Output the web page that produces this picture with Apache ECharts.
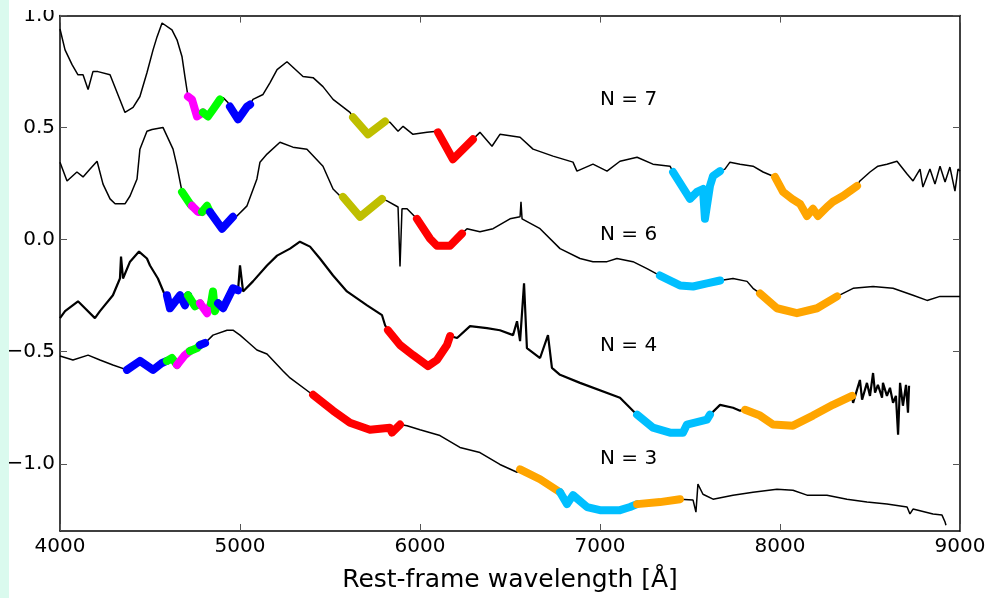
<!DOCTYPE html>
<html>
<head>
<meta charset="utf-8">
<script src="https://cdn.jsdelivr.net/npm/echarts@6/dist/echarts.min.js"></script>
<style>
  html, body { margin: 0; padding: 0; background: #fff; }
  #chart { width: 989px; height: 598px; }
</style>
</head>
<body>
<div id="chart"></div>
<script>
// Spectra: [rest-frame wavelength (Å), offset flux]
const spectrumN7 = [
  [4000,0.940],[4028,0.847],[4067,0.781],[4100,0.736],[4128,0.736],[4156,0.670],[4183,0.750],[4211,0.750],
  [4278,0.736],[4361,0.568],[4406,0.590],[4444,0.639],[4483,0.745],[4517,0.847],[4539,0.905],[4567,0.967],
  [4622,0.936],[4650,0.892],[4678,0.816],[4694,0.728],
  [4711,0.639],[4733,0.626],[4761,0.550],[4794,0.568],[4822,0.550],[4850,0.581],[4889,0.626],[4906,0.634],
  [4933,0.612],[4944,0.594],[4989,0.537],[5039,0.594],[5056,0.603],[5072,0.626],[5128,0.648],[5167,0.701],[5206,0.759],
  [5261,0.794],[5350,0.728],[5406,0.723],[5461,0.683],[5517,0.626],[5611,0.568],[5628,0.546],[5711,0.470],
  [5806,0.528],[5833,0.524],[5878,0.484],[5906,0.506],[5961,0.470],[6039,0.479],[6094,0.484],[6100,0.479],
  [6183,0.359],[6294,0.448],[6333,0.479],[6400,0.417],[6444,0.470],[6556,0.457],[6628,0.404],[6739,0.373],
  [6850,0.346],[6872,0.306],[6961,0.337],[7039,0.306],[7111,0.350],[7206,0.368],[7294,0.337],[7389,0.328],
  [7406,0.302],[7500,0.182],[7539,0.213],[7572,0.226],[7583,0.093],[7611,0.240],[7628,0.284],[7667,0.306],
  [7694,0.315],[7722,0.346],[7778,0.337],[7850,0.328],[7906,0.302],[7972,0.280],[8017,0.213],[8067,0.182],
  [8111,0.160],[8150,0.106],[8183,0.138],[8211,0.106],[8261,0.146],[8294,0.169],[8350,0.195],[8428,0.240],
  [8444,0.262],[8500,0.302],[8544,0.328],[8594,0.337],[8650,0.350],[8706,0.293],[8739,0.262],[8778,0.315],
  [8794,0.235],[8833,0.315],[8861,0.248],[8889,0.328],[8917,0.257],[8944,0.324],[8972,0.217],[8989,0.315],
  [9000,0.306]
];

const spectrumN6 = [
  [4000,0.346],[4039,0.262],[4094,0.302],[4128,0.280],[4167,0.315],[4206,0.350],[4239,0.248],[4278,0.182],
  [4306,0.160],[4361,0.160],[4389,0.195],[4428,0.271],[4444,0.404],[4483,0.484],[4511,0.492],[4572,0.501],
  [4628,0.404],[4650,0.328],
  [4678,0.213],[4722,0.160],[4733,0.151],[4767,0.124],[4789,0.124],[4817,0.151],[4833,0.124],[4900,0.049],
  [4961,0.102],[4983,0.106],[5039,0.151],[5094,0.271],[5111,0.346],[5150,0.382],[5222,0.435],[5294,0.413],
  [5372,0.404],[5461,0.328],[5517,0.226],[5556,0.195],[5572,0.191],[5667,0.102],[5789,0.182],[5817,0.173],
  [5878,0.146],[5889,-0.120],[5900,0.138],[5928,0.138],[5983,0.093],[6056,0.004],[6094,-0.027],[6167,-0.027],
  [6233,0.027],[6261,0.049],[6333,0.035],[6406,0.049],[6500,0.093],[6556,0.102],[6561,0.169],[6567,0.093],
  [6667,0.049],[6778,-0.040],[6889,-0.084],[6961,-0.098],[7039,-0.098],[7094,-0.084],[7183,-0.098],[7261,-0.129],
  [7333,-0.160],[7444,-0.204],[7517,-0.209],[7594,-0.195],[7667,-0.182],[7739,-0.173],[7817,-0.186],[7850,-0.217],
  [7889,-0.240],[7983,-0.306],[8094,-0.328],[8206,-0.306],[8317,-0.253],[8406,-0.217],[8517,-0.209],[8628,-0.217],
  [8739,-0.248],[8817,-0.271],[8889,-0.253],[9000,-0.253]
];

const spectrumN4 = [
  [4000,-0.350],[4028,-0.319],[4100,-0.275],[4139,-0.306],[4194,-0.350],[4222,-0.319],[4294,-0.248],[4333,-0.173],
  [4339,-0.075],[4350,-0.173],[4389,-0.098],[4439,-0.053],[4483,-0.084],[4500,-0.115],[4544,-0.173],[4583,-0.248],
  [4594,-0.248],[4611,-0.306],[4667,-0.248],[4694,-0.293],[4711,-0.248],[4750,-0.297],[4778,-0.284],[4817,-0.328],
  [4839,-0.284],[4850,-0.231],[4861,-0.319],[4878,-0.284],[4906,-0.306],[4961,-0.217],[4989,-0.226],[5000,-0.115],
  [5017,-0.231],[5072,-0.186],[5150,-0.115],[5206,-0.071],[5278,-0.040],[5333,-0.009],[5389,-0.031],[5444,-0.084],
  [5517,-0.160],[5594,-0.231],[5706,-0.293],[5789,-0.337],[5806,-0.382],[5822,-0.404],[5889,-0.470],[5961,-0.515],
  [6044,-0.564],[6094,-0.537],[6150,-0.470],[6167,-0.430],[6206,-0.439],[6278,-0.386],[6372,-0.395],[6444,-0.404],
  [6517,-0.426],[6539,-0.364],[6556,-0.453],[6578,-0.195],[6594,-0.484],[6667,-0.528],[6711,-0.426],[6733,-0.572],
  [6778,-0.603],[6889,-0.639],[7111,-0.705],[7183,-0.763],[7206,-0.781],[7294,-0.839],[7389,-0.861],[7461,-0.861],
  [7483,-0.825],[7594,-0.803],[7611,-0.781],[7667,-0.737],[7739,-0.750],[7778,-0.763],[7806,-0.759],[7889,-0.785],
  [7961,-0.825],[8072,-0.830],[8183,-0.785],[8294,-0.737],[8400,-0.697],[8406,-0.728],[8444,-0.626],[8456,-0.714],
  [8483,-0.639],[8500,-0.697],[8517,-0.595],[8528,-0.683],[8544,-0.648],[8567,-0.705],[8572,-0.639],[8594,-0.697],
  [8611,-0.661],[8628,-0.728],[8644,-0.697],[8656,-0.870],[8667,-0.639],[8683,-0.741],[8700,-0.648],[8711,-0.772],
  [8717,-0.652]
];

const spectrumN3 = [
  [4000,-0.519],[4072,-0.537],[4156,-0.515],[4222,-0.537],[4294,-0.559],[4372,-0.581],[4444,-0.541],[4517,-0.581],
  [4567,-0.550],[4594,-0.541],[4622,-0.528],[4650,-0.559],[4694,-0.515],[4722,-0.497],[4761,-0.484],[4778,-0.470],
  [4806,-0.461],[4850,-0.426],[4928,-0.404],[4961,-0.404],[5000,-0.426],[5039,-0.453],[5094,-0.492],[5150,-0.510],
  [5239,-0.586],[5278,-0.617],[5389,-0.683],[5406,-0.692],[5517,-0.763],[5611,-0.817],[5722,-0.848],[5833,-0.839],
  [5844,-0.861],[5889,-0.825],[5928,-0.830],[6000,-0.848],[6111,-0.874],[6222,-0.927],[6333,-0.950],[6444,-1.003],
  [6539,-1.038],[6556,-1.025],[6667,-1.069],[6778,-1.127],[6817,-1.180],[6850,-1.140],[6928,-1.193],[7000,-1.207],
  [7111,-1.207],[7167,-1.193],[7206,-1.180],[7333,-1.171],[7444,-1.158],[7517,-1.162],[7533,-1.216],[7544,-1.091],
  [7572,-1.136],[7628,-1.158],[7739,-1.140],[7850,-1.127],[7983,-1.114],[8072,-1.118],[8150,-1.140],[8261,-1.140],
  [8372,-1.158],[8483,-1.171],[8594,-1.180],[8706,-1.193],[8722,-1.224],[8739,-1.202],[8850,-1.224],[8900,-1.229],
  [8917,-1.260],[8922,-1.274]
];

// Absorption features: [start Å, end Å, feature id]
const featuresN7 = [[4711,4794,0],[4794,4889,1],[4944,5056,2],[5628,5806,3],[6100,6294,4],[7406,7667,5],[7972,8428,6]];
const featuresN6 = [[4678,4733,1],[4733,4789,0],[4789,4833,1],[4833,4961,2],[5572,5789,3],[5983,6233,4],[7333,7667,5],[7889,8317,6]];
const featuresN4 = [[4594,4711,2],[4711,4778,1],[4778,4839,0],[4839,4878,1],[4878,4989,2],[5822,6167,4],[7206,7611,5],[7806,8400,6]];
const featuresN3 = [[4372,4594,2],[4594,4650,1],[4650,4722,0],[4722,4778,1],[4778,4806,2],[5406,5889,4],[6556,6778,6],[6778,7206,5],[7206,7444,6]];

const curveLabels = ['N = 7', 'N = 6', 'N = 4', 'N = 3'];

const xTicks = [4000, 5000, 6000, 7000, 8000, 9000];
const yTicks = [-1.0, -0.5, 0.0, 0.5, 1.0];

// drawing styles
const featureColors = ['#ff00ff', '#00ff00', '#0000ff', '#bfbf00', '#ff0000', '#00bfff', '#ffa500'];
const labelAnchors = [[7000, 0.626], [7000, 0.020], [7000, -0.475], [7000, -0.977]];
const FONT = 'DejaVu Sans';

const series = [];
function addSpectrum(points, features, lineWidth) {
  series.push({
    type: 'line', data: points, showSymbol: false, silent: true,
    lineStyle: { color: '#000', width: lineWidth }, z: 2
  });
  features.forEach(([a, b, k]) => {
    series.push({
      type: 'line',
      data: points.filter(p => p[0] >= a && p[0] <= b),
      showSymbol: false, silent: true,
      lineStyle: { color: featureColors[k], width: 8, cap: 'round', join: 'round' },
      z: 3
    });
  });
}
addSpectrum(spectrumN7, featuresN7, 1.5);
addSpectrum(spectrumN6, featuresN6, 1.5);
addSpectrum(spectrumN4, featuresN4, 2.2);
addSpectrum(spectrumN3, featuresN3, 1.5);

series.push({
  type: 'scatter', symbolSize: 0, silent: true, z: 5,
  itemStyle: { opacity: 1 },
  data: curveLabels.map((t, i) => [labelAnchors[i][0], labelAnchors[i][1], t]),
  label: {
    show: true, position: 'right', distance: 0, opacity: 1,
    formatter: p => p.data[2],
    fontFamily: FONT, fontSize: 20, color: '#000'
  }
});

const fmtY = v => (v < 0 ? '\u2212' : '') + Math.abs(v).toFixed(1);
const fmtX = v => String(Math.round(v));

const axisLineStyle = { onZero: false, lineStyle: { color: '#000', width: 1.5 } };
const tickStyle = { inside: true, length: 7, lineStyle: { color: '#555', width: 1 } };

const option = {
  animation: false,
  backgroundColor: '#fff',
  grid: { left: 60, right: 29, top: 15.6, bottom: 64.7, containLabel: false },
  xAxis: [
    {
      type: 'value', min: 4000, max: 9000, interval: 1000, position: 'bottom',
      axisLine: axisLineStyle,
      axisTick: Object.assign({ customValues: xTicks }, tickStyle),
      axisLabel: { customValues: xTicks, formatter: fmtX, fontFamily: FONT, fontSize: 20, color: '#000', margin: 6 },
      splitLine: { show: false },
      name: 'Rest-frame wavelength [\u00c5]',
      nameLocation: 'middle', nameGap: 37,
      nameTextStyle: { fontFamily: FONT, fontSize: 25, color: '#000' }
    },
    {
      type: 'value', min: 4000, max: 9000, interval: 1000, position: 'top',
      axisLine: axisLineStyle,
      axisTick: Object.assign({ customValues: xTicks }, tickStyle),
      axisLabel: { show: false },
      splitLine: { show: false }
    }
  ],
  yAxis: [
    {
      type: 'value', min: -1.3, max: 1.0, position: 'left',
      axisLine: axisLineStyle,
      axisTick: Object.assign({ customValues: yTicks }, tickStyle),
      axisLabel: { customValues: yTicks, formatter: fmtY, fontFamily: FONT, fontSize: 20, color: '#000', margin: 5 },
      splitLine: { show: false }
    },
    {
      type: 'value', min: -1.3, max: 1.0, position: 'right',
      axisLine: axisLineStyle,
      axisTick: Object.assign({ customValues: yTicks }, tickStyle),
      axisLabel: { show: false },
      splitLine: { show: false }
    }
  ],
  graphic: [
    { type: 'rect', left: 0, top: 0, shape: { width: 9, height: 598 }, style: { fill: '#dafaee' }, silent: true, z: 100 },
    { type: 'rect', left: 9, top: 0, shape: { width: 48, height: 10 }, style: { fill: '#fff' }, silent: true, z: 100 }
  ],
  series: series
};

const chart = echarts.init(document.getElementById('chart'), null, { renderer: 'canvas' });
chart.setOption(option);
</script>
</body>
</html>
